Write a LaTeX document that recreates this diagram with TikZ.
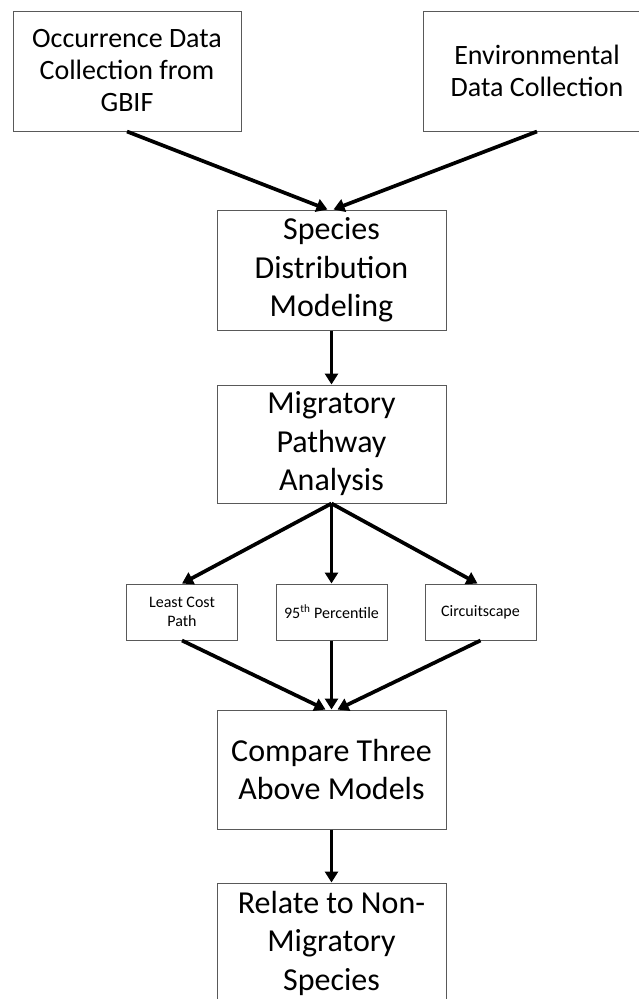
\documentclass[tikz,border=0pt]{standalone}
\usepackage{fontspec}
\setmainfont{Carlito}
\usetikzlibrary{arrows.meta,positioning}

\begin{document}
\begin{tikzpicture}[x=1pt,y=-1pt]
                \tikzstyle{stage} = [shape=rectangle, draw=black!65, line width=1pt, fill=white, align=center, inner sep=0pt, minimum width=229pt, minimum height=120pt, font=\fontsize{32}{38.5}\selectfont];
                \tikzstyle{source} = [stage, minimum width=228pt, font=\fontsize{28}{32}\selectfont];
                \tikzstyle{method} = [stage, minimum width=111pt, minimum height=56pt, font=\fontsize{16}{18.5}\selectfont];

                \useasboundingbox (0,0) rectangle (639,999);
                \clip (0,0) rectangle (639,999);

                \node[source](occ) at (127,71) {Occurrence Data\\Collection from\\GBIF};
                \node[source](env) at (537,71) {Environmental\\Data Collection};
                \node[stage](sdm) at (331.5,270) {Species\\Distribution\\Modeling};
                \node[stage, minimum height=118pt](mpa) at (331.5,444) {Migratory\\Pathway\\Analysis};
                \node[method](lcp) at (182,612) {Least Cost\\Path};
                \node[method](pct) at (331.5,612) {95\textsuperscript{th} Percentile};
                \node[method](cir) at (480.5,612) {Circuitscape};
                \node[stage, minimum height=119pt](cmp) at (331.5,769.5) {Compare Three\\Above Models};
                \node[stage](rel) at (331.5,943) {Relate to Non-\\Migratory\\Species};

                \path[-{Triangle[length=11pt,width=13pt]}, line width=3.7pt]
                    (occ.south) edge ([xshift=-4pt]sdm.north)
                    (env.south) edge ([xshift=2pt]sdm.north)

                    (sdm) edge (mpa)

                    (mpa.south) edge (lcp.north)
                    (mpa.south) edge (pct.north)
                    (mpa.south) edge ([xshift=-3pt]cir.north)

                    (lcp.south) edge ([xshift=-6pt]cmp.north)
                    (pct.south) edge (cmp.north)
                    (cir.south) edge ([xshift=6pt]cmp.north)

                    (cmp) edge (rel)
                ;
            \end{tikzpicture}
\end{document}
